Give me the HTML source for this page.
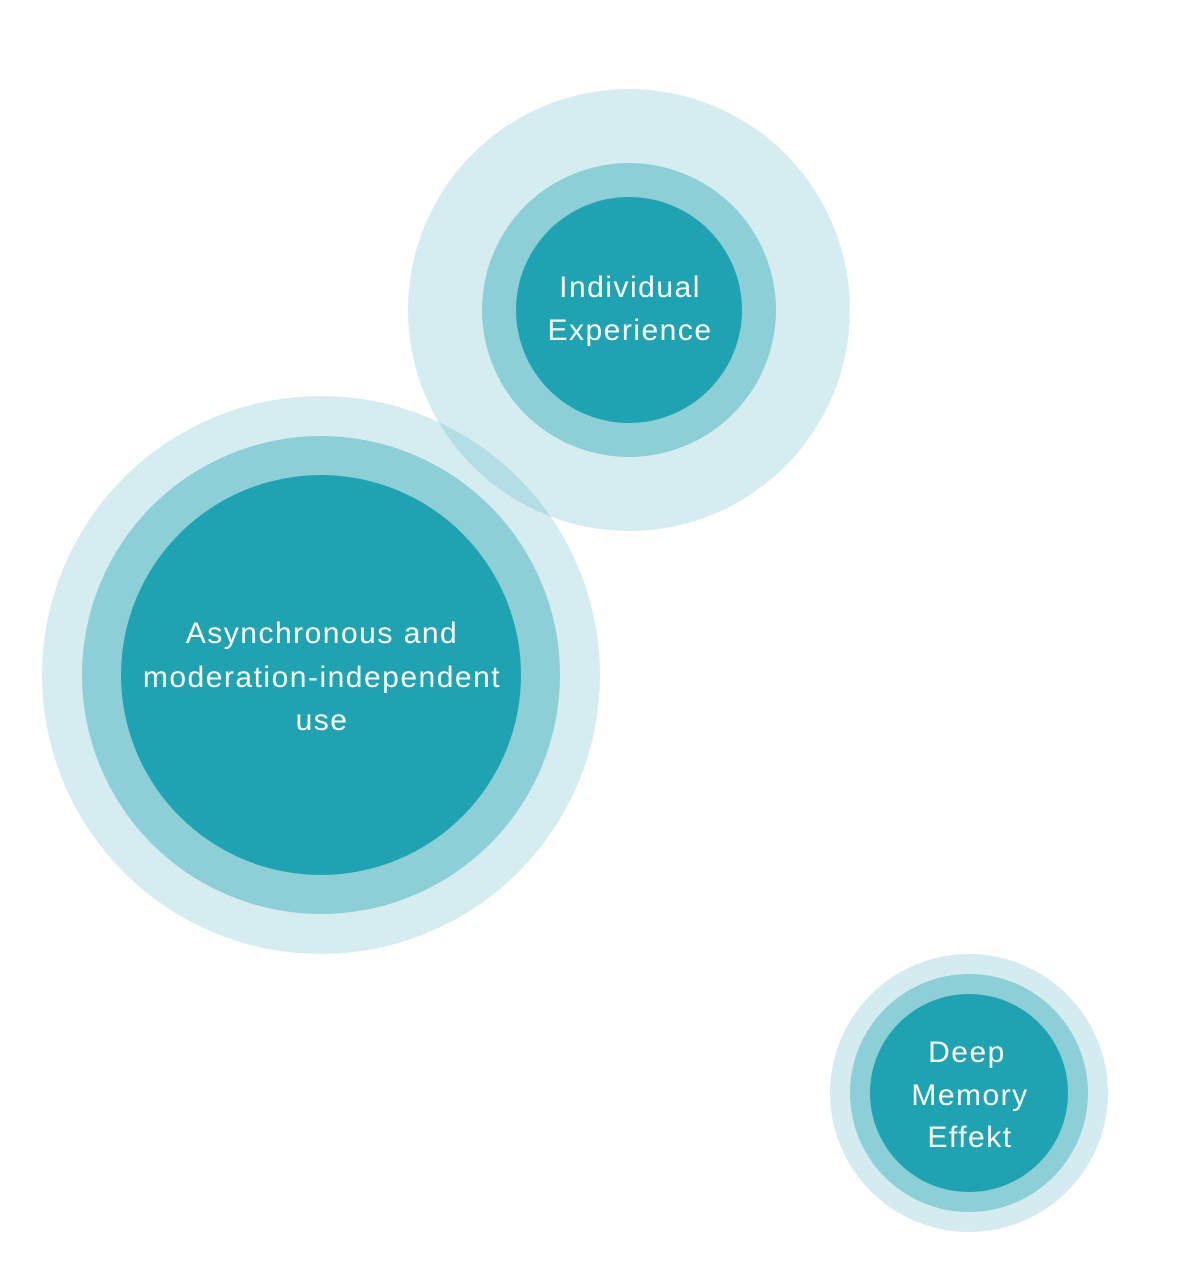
<!DOCTYPE html>
<html><head><meta charset="utf-8"><style>
html,body{margin:0;padding:0;background:#fff;}
</style></head><body>
<svg width="1200" height="1283" viewBox="0 0 1200 1283" xmlns="http://www.w3.org/2000/svg" style="display:block">
<g font-family="Liberation Sans, sans-serif" font-size="30" letter-spacing="1.5" fill="#fff" text-anchor="middle">
<circle cx="321" cy="675" r="279" fill="rgba(31,162,178,0.19)"/>
<circle cx="629" cy="310" r="221" fill="rgba(31,162,178,0.19)"/>
<circle cx="321" cy="675" r="239" fill="#8ccfd6"/>
<circle cx="321" cy="675" r="200" fill="#1fa2b2"/>
<circle cx="629" cy="310" r="147" fill="#8ccfd6"/>
<circle cx="629" cy="310" r="113" fill="#1fa2b2"/>
<circle cx="969" cy="1093" r="139" fill="#d4ecef"/>
<circle cx="969" cy="1093" r="119" fill="#8ccfd6"/>
<circle cx="969" cy="1093" r="99" fill="#1fa2b2"/>
<text x="630" y="297">Individual</text>
<text x="630" y="340">Experience</text>
<text x="322" y="643">Asynchronous and</text>
<text x="322" y="687">moderation-independent</text>
<text x="322" y="730">use</text>
<text x="967" y="1062">Deep</text>
<text x="970" y="1105">Memory</text>
<text x="970" y="1147">Effekt</text>
</g>
</svg>
</body></html>
